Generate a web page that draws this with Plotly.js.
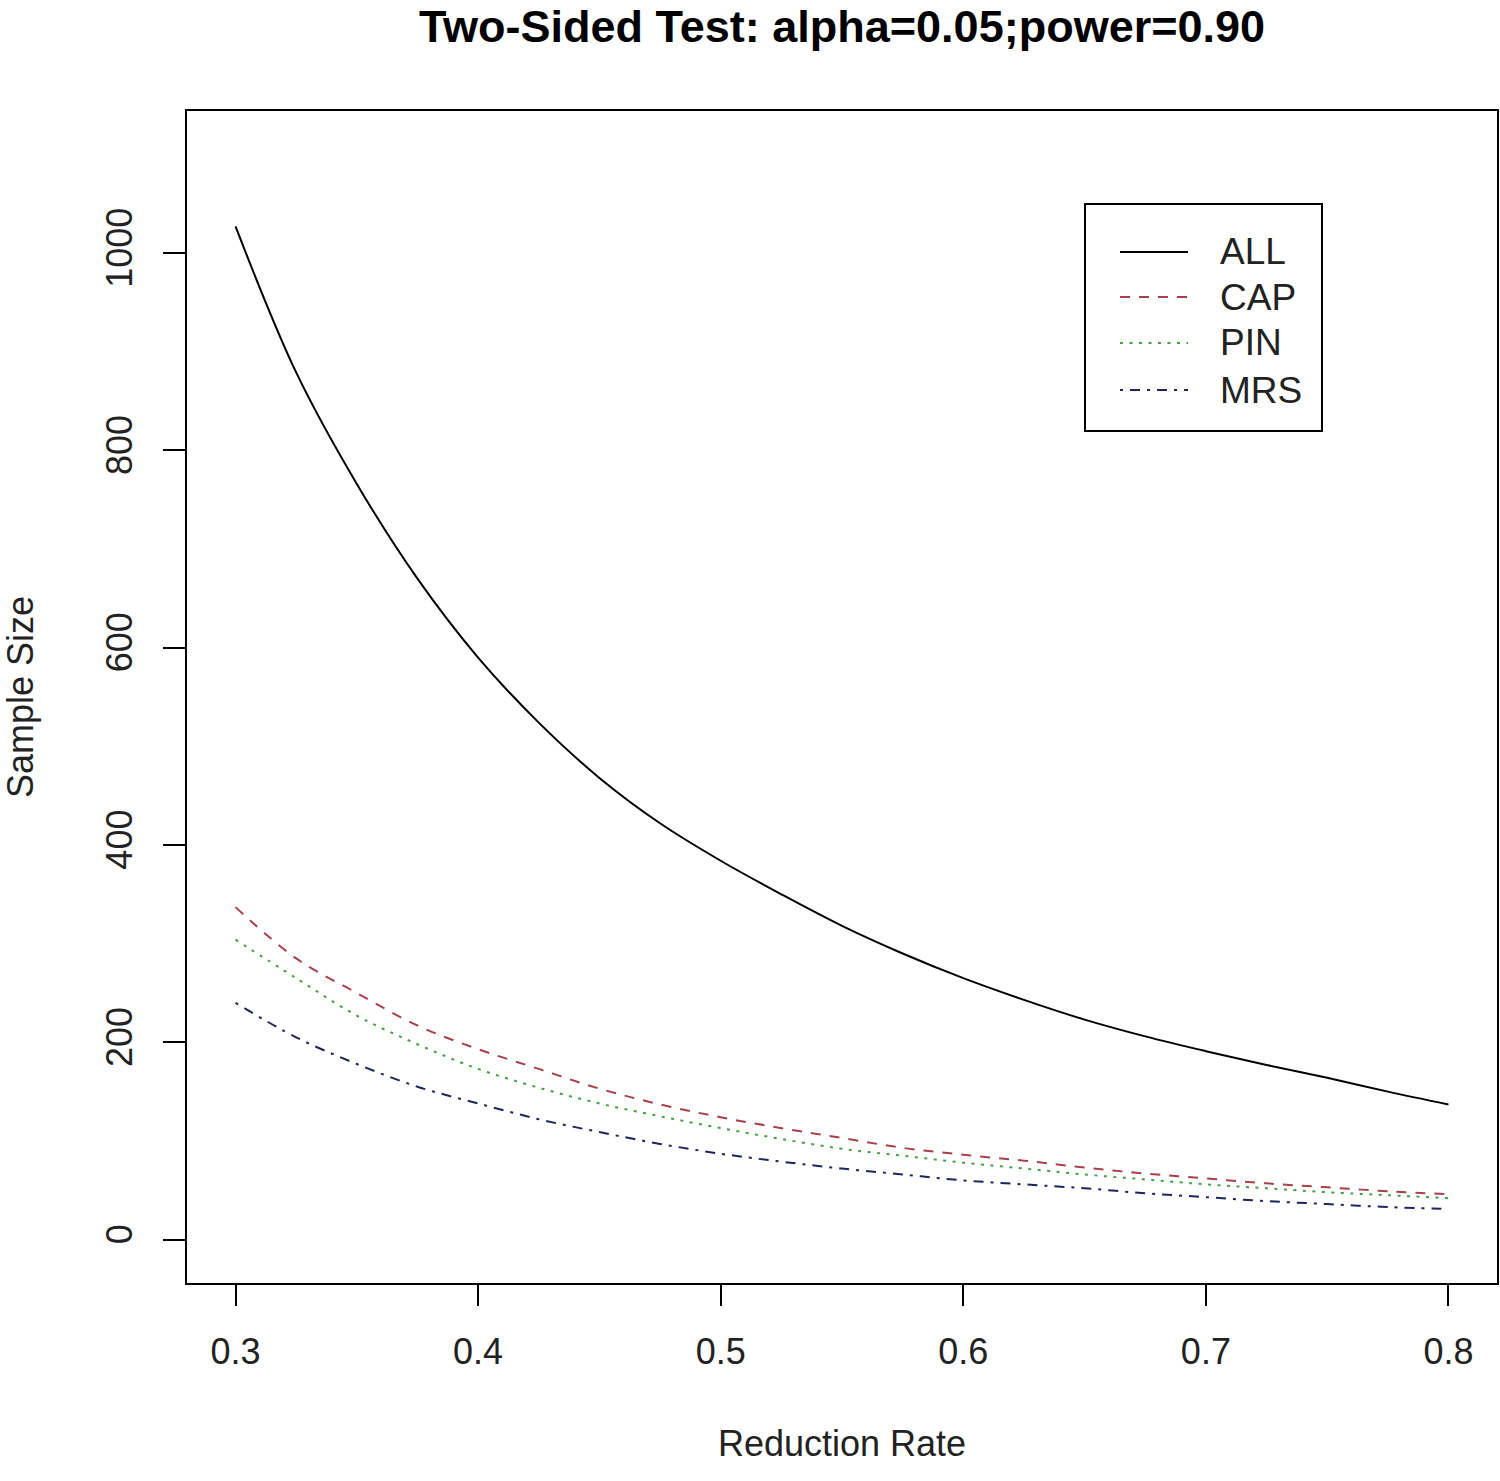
<!DOCTYPE html>
<html>
<head>
<meta charset="utf-8">
<script src="https://cdn.plot.ly/plotly-3.0.1.min.js"></script>
<style>
  body { margin: 0; background: #fff; }
  #chart { width: 1500px; height: 1481px; }
</style>
</head>
<body>
<div id="chart"></div>
<script>
// sample size curves

const reductionRate = [0.30, 0.325, 0.35, 0.375, 0.40, 0.425, 0.45, 0.475, 0.50, 0.525, 0.55, 0.575,
                       0.60, 0.625, 0.65, 0.675, 0.70, 0.725, 0.75, 0.775, 0.80];

const sizeALL = [1027, 879, 766, 670, 590, 524, 468, 422, 384, 350, 318, 290,
                 265, 243, 223, 206, 191, 177, 164, 150, 137];
const sizeCAP = [337, 285, 250, 217, 193, 173, 153, 137, 124, 113, 103, 93,
                 86, 80, 73, 67, 62, 57, 53, 49, 46];
const sizePIN = [304, 265, 227, 198, 173, 154, 138, 125, 113, 102, 92, 85,
                 78, 72, 66, 61, 56, 52, 48, 45, 42];
const sizeMRS = [240, 205, 178, 155, 138, 122, 109, 97, 87, 79, 72, 66,
                 60, 56, 52, 47, 43, 39, 36, 33, 31];

const seriesNames = ["ALL", "CAP", "PIN", "MRS"];
const seriesValues = [sizeALL, sizeCAP, sizePIN, sizeMRS];
const seriesColors = ["#000000", "#a8404c", "#44a044", "#22225e"];
const seriesDash = ["solid", "10px,9px", "3px,6.5px", "3px,7px,10px,7px"];

const xTicks = [0.3, 0.4, 0.5, 0.6, 0.7, 0.8];
const yTicks = [0, 200, 400, 600, 800, 1000];

const fontFamily = "'Liberation Sans', Arial, sans-serif";
const textColor = "#222";

// plot box in page pixels, used to place the hand made legend
const W = 1500, H = 1481;
const mL = 187, mR = 3, mT = 111, mB = 198;
const plotW = W - mL - mR, plotH = H - mT - mB;
const px = (x) => (x - mL) / plotW;
const py = (y) => (H - mB - y) / plotH;

let data = seriesNames.map((name, i) => ({
    x: reductionRate,
    y: seriesValues[i],
    type: 'scatter',
    mode: 'lines',
    name: name,
    showlegend: false,
    line: {color: seriesColors[i], width: 2, dash: seriesDash[i], shape: 'spline', smoothing: 1}
}));

// legend drawn with shapes so the sample lines are as long as in R
const legendRows = [252, 297, 343, 390];
let shapes = [{
    type: 'rect', xref: 'paper', yref: 'paper',
    x0: px(1085), x1: px(1322), y0: py(431), y1: py(204),
    line: {color: '#000', width: 2}, fillcolor: 'rgba(0,0,0,0)'
}];
let annotations = [];
seriesNames.forEach((name, i) => {
    shapes.push({
        type: 'line', xref: 'paper', yref: 'paper',
        x0: px(1120), x1: px(1188), y0: py(legendRows[i]), y1: py(legendRows[i]),
        line: {color: seriesColors[i], width: 2, dash: seriesDash[i]}
    });
    annotations.push({
        xref: 'paper', yref: 'paper', x: px(1218), y: py(legendRows[i]),
        xanchor: 'left', yanchor: 'middle', showarrow: false,
        text: name, font: {family: fontFamily, size: 37, color: textColor}
    });
});

let layout = {
    width: W,
    height: H,
    margin: {l: mL, r: mR, t: mT, b: mB},
    paper_bgcolor: '#fff',
    plot_bgcolor: '#fff',
    font: {family: fontFamily, size: 36, color: textColor},
    title: {
        text: '<b>Two-Sided Test: alpha=0.05;power=0.90</b>',
        font: {family: fontFamily, size: 45, color: '#000'},
        x: px(842), xref: 'paper', xanchor: 'center',
        y: 1 - 26 / H, yref: 'container', yanchor: 'middle'
    },
    xaxis: {
        range: [0.28, 0.82],
        tickvals: xTicks,
        ticktext: xTicks.map(v => v.toFixed(1)),
        ticks: 'outside', ticklen: 21, tickwidth: 2, tickcolor: '#000',
        ticklabelstandoff: 15,
        showline: true, linecolor: '#000', linewidth: 2, mirror: true,
        showgrid: false, zeroline: false,
        title: {text: 'Reduction Rate', standoff: 60, font: {size: 36}},
        fixedrange: true
    },
    yaxis: {
        range: [-44, 1144],
        tickvals: yTicks,
        ticktext: yTicks.map(v => String(v)),
        tickangle: -90,
        ticks: 'outside', ticklen: 22, tickwidth: 2, tickcolor: '#000',
        ticklabelstandoff: 17,
        showline: true, linecolor: '#000', linewidth: 2, mirror: true,
        showgrid: false, zeroline: false,
        title: {text: 'Sample Size', standoff: 54, font: {size: 36}},
        fixedrange: true
    },
    shapes: shapes,
    annotations: annotations,
    showlegend: false
};

const config = {displayModeBar: false, staticPlot: true};

Plotly.newPlot('chart', data, layout, config);
</script>
</body>
</html>
